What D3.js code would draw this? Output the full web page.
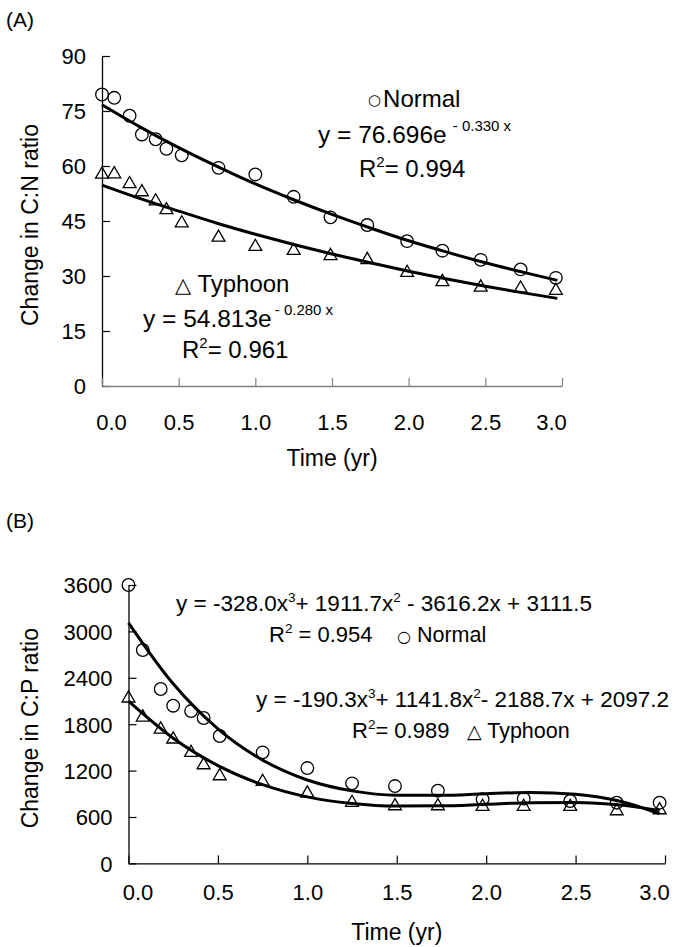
<!DOCTYPE html>
<html>
<head>
<meta charset="utf-8">
<script src="https://cdn.jsdelivr.net/npm/d3@7"></script>
<style>
  body { margin: 0; background: #fff; }
  svg text { font-family: "Liberation Sans", Arial, sans-serif; fill: #000; }
</style>
</head>
<body>
<div id="chart"></div>
<script>
// panel A: C:N ratio
const timeA = [0, 0.08, 0.18, 0.26, 0.35, 0.42, 0.52, 0.76, 1.0, 1.25, 1.49, 1.73, 1.99, 2.22, 2.47, 2.73, 2.96];
const normalCN = [79.5, 78.6, 73.7, 68.6, 67.3, 64.7, 62.9, 59.5, 57.7, 51.6, 46.0, 43.9, 39.5, 36.9, 34.4, 31.8, 29.5];
const typhoonCN = [57.7, 57.8, 55.1, 52.9, 50.4, 48.0, 44.4, 40.5, 38.0, 36.9, 35.5, 34.4, 30.9, 28.4, 26.9, 26.6, 26.0];

// panel B: C:P ratio
const timeB = [0, 0.08, 0.18, 0.25, 0.35, 0.42, 0.51, 0.75, 1.0, 1.25, 1.49, 1.73, 1.98, 2.21, 2.47, 2.73, 2.97];
const normalCP = [3600, 2759, 2255, 2039, 1970, 1880, 1647, 1436, 1233, 1035, 1000, 940, 829, 837, 807, 785, 785];
const typhoonCP = [2135, 1889, 1734, 1605, 1431, 1272, 1130, 1056, 906, 785, 742, 742, 733, 733, 733, 677, 690];

// trend lines
const trendT = [0, 0.25, 0.5, 0.75, 1, 1.25, 1.5, 1.75, 2, 2.25, 2.5, 2.75, 2.97];
const normalCNfit = [76.7, 70.6, 65.0, 59.9, 55.1, 50.8, 46.8, 43.1, 39.6, 36.5, 33.6, 31.0, 28.8];
const typhoonCNfit = [54.8, 51.1, 47.7, 44.4, 41.4, 38.6, 36.0, 33.6, 31.3, 29.2, 27.2, 25.4, 23.9];
const normalCPfit = [3111, 2322, 1740, 1336, 1079, 938, 882, 880, 902, 917, 894, 803, 641];
const typhoonCPfit = [2097, 1618, 1265, 1018, 860, 774, 741, 744, 765, 785, 788, 755, 683];

// ticks
const xTicks = [0, 0.5, 1, 1.5, 2, 2.5, 3];
const yTicksA = [0, 15, 30, 45, 60, 75, 90];
const yTicksB = [0, 600, 1200, 1800, 2400, 3000, 3600];

const svg = d3.select("#chart").append("svg")
  .attr("width", 676)
  .attr("height", 947);

const triangle = d3.symbol().type(d3.symbolTriangle).size(72);

function panel(opt) {
  const x = d3.scaleLinear().domain([0, 3]).range(opt.xRange);
  const y = d3.scaleLinear().domain(opt.yDomain).range(opt.yRange);
  const g = svg.append("g");

  // y axis, ticks pointing inward
  const yAxis = g.append("g")
    .attr("transform", `translate(${opt.xRange[0]},0)`)
    .call(d3.axisLeft(y).tickValues(opt.yTicks).tickFormat(d3.format("d"))
      .tickSizeInner(-8).tickSizeOuter(0).tickPadding(opt.yPad));
  yAxis.select(".domain").attr("stroke", "#000").attr("stroke-width", 1.3);
  yAxis.selectAll(".tick line").attr("stroke", "#000").attr("stroke-width", 1.2);
  yAxis.selectAll(".tick text").attr("font-size", 22).attr("font-family", null).attr("dy", "0.36em");

  const xAxis = g.append("g")
    .attr("transform", `translate(0,${opt.yRange[0]})`)
    .call(d3.axisBottom(x).tickValues(xTicks).tickFormat(d3.format(".1f"))
      .tickSizeInner(-8).tickSizeOuter(0).tickPadding(opt.xPad));
  xAxis.select(".domain").attr("stroke", opt.xColor).attr("stroke-width", 1.3);
  xAxis.selectAll(".tick line").attr("stroke", opt.xColor).attr("stroke-width", 1.2);
  xAxis.selectAll(".tick text").attr("font-size", 22).attr("font-family", null)
    .attr("dx", (d, i) => i === 0 ? 9 : i === xTicks.length - 1 ? -11 : 0);

  g.append("text")
    .attr("x", (opt.xRange[0] + opt.xRange[1]) / 2)
    .attr("y", opt.yRange[0] + opt.titleOffset)
    .attr("text-anchor", "middle")
    .attr("font-size", 23)
    .text("Time (yr)");

  g.append("text")
    .attr("transform", `translate(38,${(opt.yRange[0] + opt.yRange[1]) / 2 + 4}) rotate(-90)`)
    .attr("text-anchor", "middle")
    .attr("font-size", 23)
    .text(opt.yTitle);

  g.append("text").attr("x", 6).attr("y", opt.tagY).attr("font-size", 21).text(opt.tag);

  const line = d3.line().x(d => x(d[0])).y(d => y(d[1])).curve(d3.curveMonotoneX);

  opt.series.forEach(s => {
    const pts = s.t.map((t, i) => [t, s.v[i]]);
    if (s.shape === "circle") {
      g.append("g").selectAll("circle").data(pts).join("circle")
        .attr("cx", d => x(d[0])).attr("cy", d => y(d[1])).attr("r", 6.3)
        .attr("fill", "none").attr("stroke", "#000").attr("stroke-width", 1.3);
    } else {
      g.append("g").selectAll("path").data(pts).join("path")
        .attr("transform", d => `translate(${x(d[0])},${y(d[1])})`)
        .attr("d", triangle)
        .attr("fill", "none").attr("stroke", "#000").attr("stroke-width", 1.3);
    }
    const fit = trendT.map((t, i) => [t, s.fit[i]]);
    g.append("path").datum(fit).attr("d", line)
      .attr("fill", "none").attr("stroke", "#000").attr("stroke-width", 3);
  });
}

panel({
  xRange: [102, 562], yDomain: [0, 90], yRange: [386, 56], yTicks: yTicksA,
  yPad: 16, xPad: 28, xColor: "#808080", titleOffset: 80,
  yTitle: "Change in C:N ratio", tag: "(A)", tagY: 27,
  series: [
    { t: timeA, v: normalCN, fit: normalCNfit, shape: "circle" },
    { t: timeA, v: typhoonCN, fit: typhoonCNfit, shape: "triangle" }
  ]
});

panel({
  xRange: [128.5, 665], yDomain: [0, 3600], yRange: [863.4, 585], yTicks: yTicksB,
  yPad: 16, xPad: 21, xColor: "#000", titleOffset: 77,
  yTitle: "Change in C:P ratio", tag: "(B)", tagY: 528,
  series: [
    { t: timeB, v: normalCP, fit: normalCPfit, shape: "circle" },
    { t: timeB, v: typhoonCP, fit: typhoonCPfit, shape: "triangle" }
  ]
});

// equation labels
function label(xPos, yPos, parts, size) {
  const t = svg.append("text").attr("x", xPos).attr("y", yPos).attr("font-size", size);
  let shift = 0;
  parts.forEach(p => {
    const sp = t.append("tspan").text(p.s);
    const target = p.sup ? -p.sup : 0;
    if (target !== shift) sp.attr("dy", target - shift);
    shift = target;
    if (p.size) sp.attr("font-size", p.size);
    if (p.font) sp.attr("font-family", p.font);
    if (p.dx) sp.attr("dx", p.dx);
  });
}

const symFont = "'DejaVu Sans', sans-serif";

label(368, 107, [{ s: "○", size: 15, font: symFont, sup: 2 }, { s: "Normal", dx: 2 }], 24);
label(318, 143, [{ s: "y = 76.696e" }, { s: "- 0.330 x", sup: 12, size: 15, dx: 6 }], 24.5);
label(359, 177, [{ s: "R" }, { s: "2", sup: 10, size: 15 }, { s: "= 0.994" }], 24);

label(175, 292, [{ s: "△", size: 21, font: symFont }, { s: " Typhoon" }], 24);
label(143, 327, [{ s: "y = 54.813e" }, { s: "- 0.280 x", sup: 12, size: 15, dx: 3 }], 24.5);
label(182, 358, [{ s: "R" }, { s: "2", sup: 10, size: 15 }, { s: "= 0.961" }], 24);

label(176, 611, [{ s: "y = -328.0x" }, { s: "3", sup: 9, size: 13.5 }, { s: "+ 1911.7x" }, { s: "2", sup: 9, size: 13.5 },
  { s: " - 3616.2x + 3111.5" }], 22.5);
label(269, 642, [{ s: "R" }, { s: "2", sup: 9, size: 13.5 }, { s: " = 0.954" }], 22);
label(397, 642, [{ s: "○", size: 16, font: symFont }, { s: " Normal" }], 21.5);

label(256, 707, [{ s: "y = -190.3x" }, { s: "3", sup: 9, size: 13.5 }, { s: "+ 1141.8x" }, { s: "2", sup: 9, size: 13.5 },
  { s: "- 2188.7x + 2097.2" }], 22.5);
label(352, 738, [{ s: "R" }, { s: "2", sup: 9, size: 13.5 }, { s: "= 0.989" }], 22);
label(467, 738, [{ s: "△", size: 19, font: symFont }, { s: " Typhoon" }], 21.5);
</script>
</body>
</html>
